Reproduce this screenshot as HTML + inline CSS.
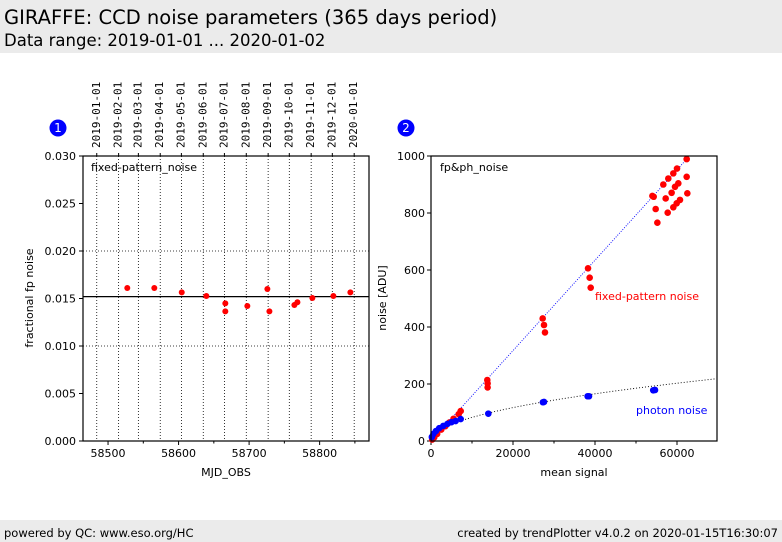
<!DOCTYPE html>
<html><head><meta charset="utf-8">
<style>
body{margin:0;width:782px;height:542px;background:#fff;font-family:"DejaVu Sans","Liberation Sans",sans-serif;overflow:hidden;position:relative}
.hdr{position:absolute;left:0;top:0;width:782px;height:53px;background:#ebebeb}
.t1{position:absolute;left:4px;top:6px;font-size:19.5px;color:#000}
.t2{position:absolute;left:4px;top:31px;font-size:16.5px;color:#000}
.ftr{position:absolute;left:0;top:520px;width:782px;height:22px;background:#ebebeb;font-size:11.5px}
.fl{position:absolute;left:4px;top:6px}.fr{position:absolute;right:4px;top:6px}
svg{position:absolute;left:0;top:0}
</style></head><body>
<div class="hdr">
<div class="t1">GIRAFFE: CCD noise parameters (365 days period)</div>
<div class="t2">Data range: 2019-01-01 ... 2020-01-02</div>
</div>
<svg id="c" width="782" height="542" font-family="DejaVu Sans, Liberation Sans, sans-serif" font-size="11"></svg>
<div class="ftr">
<span class="fl">powered by QC: www.eso.org/HC</span>
<span class="fr">created by trendPlotter v4.0.2 on 2020-01-15T16:30:07</span>
</div>
<script>
const mjd=[58527.3,58565.6,58604.5,58639.4,58666.3,58666.3,58697.5,58725.9,58728.8,58764.2,58768.5,58789.7,58819.5,58843.6];
const fpn=[0.0161,0.0161,0.01565,0.01526,0.01449,0.01365,0.01421,0.0160,0.01365,0.01432,0.0146,0.01505,0.01526,0.01565];
const fpRef=0.0152;
const dateLabels=["2019-01-01","2019-02-01","2019-03-01","2019-04-01","2019-05-01","2019-06-01","2019-07-01","2019-08-01","2019-09-01","2019-10-01","2019-11-01","2019-12-01","2020-01-01"];
const dateMjd=[58484,58515,58543,58574,58604,58635,58665,58696,58727,58757,58788,58818,58849];
const xTicksL=[58500,58600,58700,58800];
const yTicksL=[0,0.005,0.010,0.015,0.020,0.025,0.030];
const redSig=[62360,62360,62520,60000,59100,57880,56660,60320,59510,58690,57240,54310,53990,54800,55210,57730,59100,59920,60730,38300,38700,38950,27240,27560,27800,13730,13810,13810,7240,6750,5500,4500,3500,2500,1500,800,300];
const redNoise=[989,927,869,956,939,921,900,904,892,871,851,857,860,814,766,801,820,834,846,606,573,538,430,407,381,214,202,188,105,94,78,65,52,40,25,13,5];
const blueSig=[54640,54200,27560,27300,38540,38200,13980,7240,6000,5000,4000,3000,2000,1200,600,200];
const blueNoise=[179,178,137,136,157,157,96,77,70,66,60,53,45,35,25,14];
const xTicksR=[0,20000,40000,60000];
const yTicksR=[0,200,400,600,800,1000];
const fpSlope=0.01586, phCoef=0.828;

const S=document.getElementById('c');const NS='http://www.w3.org/2000/svg';
function el(t,a,txt){const e=document.createElementNS(NS,t);for(const k in a)e.setAttribute(k,a[k]);if(txt!=null)e.textContent=txt;S.appendChild(e);return e;}
const L={x0:83,x1:369,y0:156,y1:441,xmin:58464.5,xmax:58870,ymin:0,ymax:0.030};
const lx=v=>L.x0+(v-L.xmin)/(L.xmax-L.xmin)*(L.x1-L.x0);
const ly=v=>L.y1-(v-L.ymin)/(L.ymax-L.ymin)*(L.y1-L.y0);
dateMjd.forEach((d,i)=>{const x=lx(d);
 let g=el('line',{x1:x,x2:x,y1:L.y0,y2:L.y1,stroke:'#000','stroke-width':0.8,'stroke-dasharray':'1,2'});
 
 el('line',{x1:x,x2:x,y1:L.y0,y2:L.y0-3,stroke:'#000'});
 let t=el('text',{x:0,y:0,transform:`translate(${x+3},148) rotate(-90)`,'font-size':11,'font-family':'DejaVu Sans Mono, Liberation Mono, monospace'},dateLabels[i]);
 
});
[0.010,0.020].forEach(v=>el('line',{x1:L.x0,x2:L.x1,y1:ly(v),y2:ly(v),stroke:'#000','stroke-width':0.8,'stroke-dasharray':'1,2'}));
let ref=el('line',{x1:L.x0,x2:L.x1,y1:ly(fpRef),y2:ly(fpRef),stroke:'#000','stroke-width':1.2});

for(let v=58450;v<=58870;v+=50){if(v<L.xmin)continue;const x=lx(v);el('line',{x1:x,x2:x,y1:L.y1,y2:L.y1+(v%100?2.5:4),stroke:'#000'});}
xTicksL.forEach(v=>{let t=el('text',{x:lx(v),y:L.y1+16,'text-anchor':'middle'},v);});
yTicksL.forEach(v=>{el('line',{x1:L.x0-4,x2:L.x0,y1:ly(v),y2:ly(v),stroke:'#000'});let t=el('text',{x:L.x0-7,y:ly(v)+4,'text-anchor':'end'},v.toFixed(3));});
mjd.forEach((d,i)=>{let c=el('circle',{cx:lx(d),cy:ly(fpn[i]),r:3,fill:'#ff0000'});});
let f1=el('rect',{x:L.x0,y:L.y0,width:L.x1-L.x0,height:L.y1-L.y0,fill:'none',stroke:'#000','stroke-width':1.2});
let a=el('text',{x:91,y:171},'fixed-pattern_noise');
a=el('text',{x:226,y:476,'text-anchor':'middle'},'MJD_OBS');
a=el('text',{x:0,y:0,transform:'translate(33,298) rotate(-90)','text-anchor':'middle'},'fractional fp noise');
const R={x0:431,x1:717,y0:156,y1:441,xmin:0,xmax:69756,ymin:0,ymax:1000};
const rx=v=>R.x0+(v-R.xmin)/(R.xmax-R.xmin)*(R.x1-R.x0);
const ry=v=>R.y1-(v-R.ymin)/(R.ymax-R.ymin)*(R.y1-R.y0);
for(let v=0;v<=R.xmax;v+=10000){const x=rx(v);el('line',{x1:x,x2:x,y1:R.y1,y2:R.y1+(v%20000?2.5:4),stroke:'#000'});}
xTicksR.forEach(v=>{let t=el('text',{x:rx(v),y:R.y1+16,'text-anchor':'middle'},v);});
yTicksR.forEach(v=>{el('line',{x1:R.x0-4,x2:R.x0,y1:ry(v),y2:ry(v),stroke:'#000'});let t=el('text',{x:R.x0-6,y:ry(v)+4,'text-anchor':'end'},v);});
let fl=el('line',{x1:rx(0),y1:ry(0),x2:rx(1000/fpSlope),y2:ry(1000),stroke:'#0000ff','stroke-width':0.9,'stroke-dasharray':'1,1.5'});
let p='';for(let s=0;s<=R.xmax;s+=500){p+=(s?'L':'M')+rx(s).toFixed(1)+','+ry(phCoef*Math.sqrt(s)).toFixed(1);}
let pl=el('path',{d:p,fill:'none',stroke:'#000','stroke-width':0.9,'stroke-dasharray':'1,2'});
redSig.forEach((s,i)=>{let c=el('circle',{cx:rx(s),cy:ry(redNoise[i]),r:3.3,fill:'#ff0000'});});
blueSig.forEach((s,i)=>{let c=el('circle',{cx:rx(s),cy:ry(blueNoise[i]),r:3.3,fill:'#0000ff'});});
let f2=el('rect',{x:R.x0,y:R.y0,width:R.x1-R.x0,height:R.y1-R.y0,fill:'none',stroke:'#000','stroke-width':1.2});
a=el('text',{x:440,y:171},'fp&ph_noise');
a=el('text',{x:595,y:300,fill:'#ff0000'},'fixed-pattern noise');
a=el('text',{x:636,y:414,fill:'#0000ff'},'photon noise');
a=el('text',{x:574,y:476,'text-anchor':'middle'},'mean signal');
a=el('text',{x:0,y:0,transform:'translate(386,298) rotate(-90)','text-anchor':'middle'},'noise [ADU]');
[[58,'1'],[406,'2']].forEach(([x,n])=>{let c=el('circle',{cx:x,cy:128,r:8.5,fill:'#0000ff'});
el('text',{x:x,y:132,'text-anchor':'middle',fill:'#fff','font-size':12},n);});
</script>
</body></html>
